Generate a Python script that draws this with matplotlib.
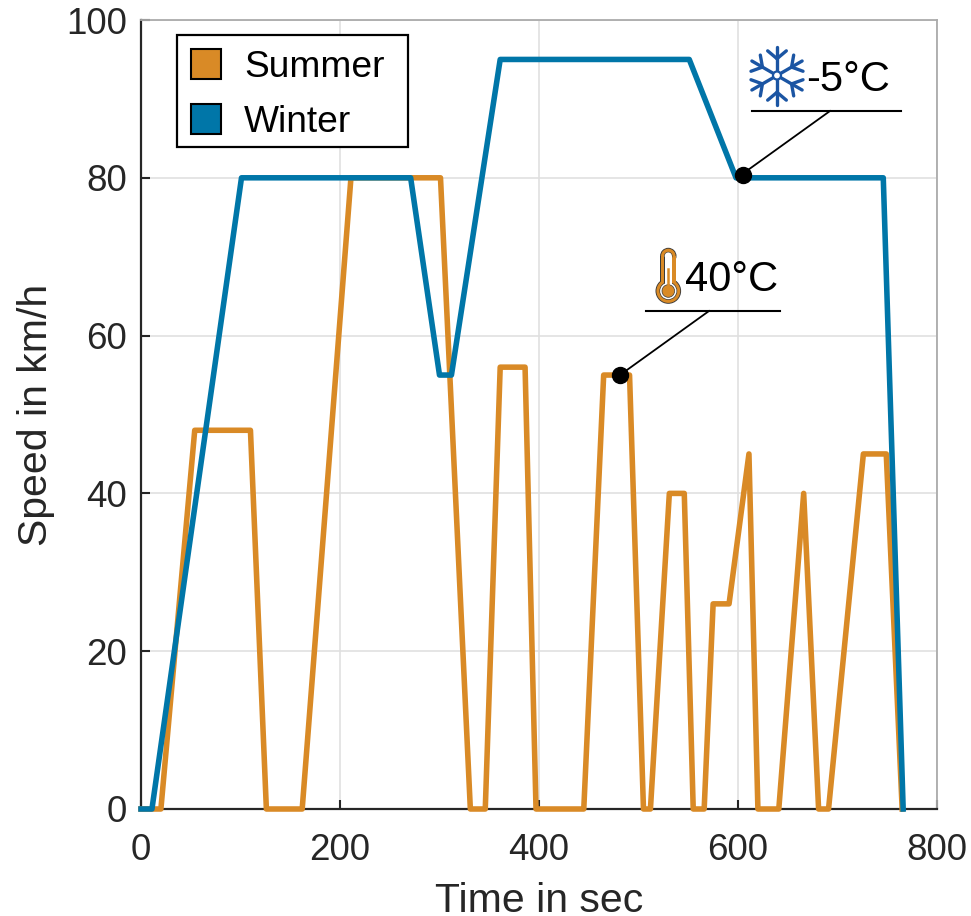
import numpy as np
import matplotlib
matplotlib.use('Agg')
import matplotlib.pyplot as plt
from matplotlib.patches import Patch, Circle, Rectangle
from matplotlib.lines import Line2D
from matplotlib.transforms import Affine2D

W, H = 971, 916

summer_t = [0, 20, 54, 110, 126, 162, 211, 301, 331, 346, 361, 386, 397, 445, 465, 491, 505, 512,
            531, 546, 555, 566, 575, 591, 611, 620, 641, 666, 681, 691, 726, 749, 765]
summer_v = [0, 0, 48, 48, 0, 0, 80, 80, 0, 0, 56, 56, 0, 0, 55, 55, 0, 0,
            40, 40, 0, 0, 26, 26, 45, 0, 0, 40, 0, 0, 45, 45, 0]
winter_t = [0, 11, 101, 271, 300, 312, 361, 551, 598, 746, 766]
winter_v = [0, 0, 80, 80, 55, 55, 95, 95, 80, 80, 0]
labels = ['Summer', 'Winter']
note_t = [481, 605]
note_v = [55, 80.3]
xticks = [0, 200, 400, 600, 800]
yticks = [0, 20, 40, 60, 80, 100]

ORANGE = '#D98A26'
BLUE = '#0076A8'
DARK = '#262626'
FLAKE = '#1B55A3'

plt.rcParams['font.family'] = ['Liberation Sans', 'DejaVu Sans']

fig = plt.figure(figsize=(W / 100, H / 100), dpi=100)
ax = fig.add_axes([141 / W, 1 - 809 / H, (937 - 141) / W, (809 - 20) / H])
# icons and callouts are placed in image pixels
px = Affine2D().scale(1 / W, -1 / H).translate(0, 1) + fig.transFigure

ax.plot(summer_t, summer_v, color=ORANGE, lw=4, clip_on=False, zorder=3, solid_joinstyle='round')
ax.plot(winter_t, winter_v, color=BLUE, lw=4, clip_on=False, zorder=4, solid_joinstyle='round')
ax.plot(note_t, note_v, 'o', color='black', ms=11.5, clip_on=False, zorder=6)

ax.set_xlim(0, 800)
ax.set_ylim(0, 100)
ax.set_xticks(xticks)
ax.set_yticks(yticks)
ax.grid(True, color='#E0E0E0', lw=1.2)
ax.set_axisbelow(True)
ax.tick_params(direction='in', length=6.5, width=1.5, color=DARK, labelsize=26.5, labelcolor=DARK)
ax.tick_params(axis='x', pad=17)
ax.tick_params(axis='y', pad=10)
for side in ['left', 'bottom']:
    ax.spines[side].set_color(DARK)
    ax.spines[side].set_linewidth(1.6)
for side in ['top', 'right']:
    ax.spines[side].set_color('#ABABAB')
    ax.spines[side].set_linewidth(1.3)
ax.set_xlabel('Time in sec', fontsize=29.5, color=DARK, labelpad=10.5)
ax.set_ylabel('Speed in km/h', fontsize=29.5, color=DARK, labelpad=8)

# legend frame is drawn apart so its box can be sized to the picture
fig.add_artist(Rectangle((177, 35), 231, 112, facecolor='white', edgecolor='black', lw=1.6,
                         transform=px, zorder=5))
handles = [Patch(facecolor=ORANGE, edgecolor='black', lw=1.5),
           Patch(facecolor=BLUE, edgecolor='black', lw=1.5)]
leg = fig.legend(handles, labels, loc='upper left', bbox_to_anchor=(190.5 / W, 1 - 49 / H),
                 fontsize=26.7, frameon=False, handlelength=0.83, handleheight=0.85,
                 handletextpad=0.62, labelspacing=0.53, borderpad=0, borderaxespad=0,
                 labelcolor='black')
leg.set_zorder(6)

# callouts
for xs, ys in [([741, 830, 752, 901], [175, 111, 111, 111]),
               ([620, 709, 646, 780], [375, 311, 311, 311])]:
    fig.add_artist(Line2D(xs[:2], ys[:2], color='black', lw=1.3, transform=px))
    fig.add_artist(Line2D(xs[2:], ys[2:], color='black', lw=1.5, transform=px))
fig.text(806, 91, '-5°C', fontsize=30, color='black', transform=px, ha='left', va='baseline')
fig.text(685, 291, '40°C', fontsize=30, color='black', transform=px, ha='left', va='baseline')

# snowflake icon
cx, cy, r = 777, 75.5, 29
for deg in range(30, 390, 60):
    a = np.radians(deg)
    ux, uy = np.cos(a), -np.sin(a)
    fig.add_artist(Line2D([cx, cx + r * ux], [cy, cy + r * uy], color=FLAKE, lw=2.4, transform=px,
                          solid_capstyle='round'))
    bx, by = cx + 0.58 * r * ux, cy + 0.58 * r * uy
    for off in [-50, 50]:
        b = a + np.radians(off)
        fig.add_artist(Line2D([bx, bx + 0.42 * r * np.cos(b)], [by, by - 0.42 * r * np.sin(b)],
                              color=FLAKE, lw=2.4, transform=px, solid_capstyle='round'))
fig.add_artist(Circle((cx, cy), 4, facecolor='white', edgecolor=FLAKE, lw=1.6, transform=px, zorder=5))


# thermometer icon
def thermo(half, color, bulb):
    tx, ty, top = 668.3, 291, 248
    fig.add_artist(Rectangle((tx - half, top + 8), 2 * half, ty - top - 8, facecolor=color,
                             edgecolor='none', transform=px))
    fig.add_artist(Circle((tx, top + 8), half, facecolor=color, edgecolor='none', transform=px))
    fig.add_artist(Circle((tx, ty), bulb, facecolor=color, edgecolor='none', transform=px))


thermo(8.2, '#3A3A3A', 12.8)
thermo(7.3, ORANGE, 11.9)
thermo(4.2, '#3A3A3A', 8.9)
thermo(3.6, 'white', 8.2)
fig.add_artist(Line2D([668.3, 668.3], [269, 288], color=ORANGE, lw=1.8, transform=px))
fig.add_artist(Circle((668.3, 291), 6.3, facecolor=ORANGE, edgecolor='#3A3A3A', lw=0.5, transform=px))

fig.savefig('out.png', dpi=100)
